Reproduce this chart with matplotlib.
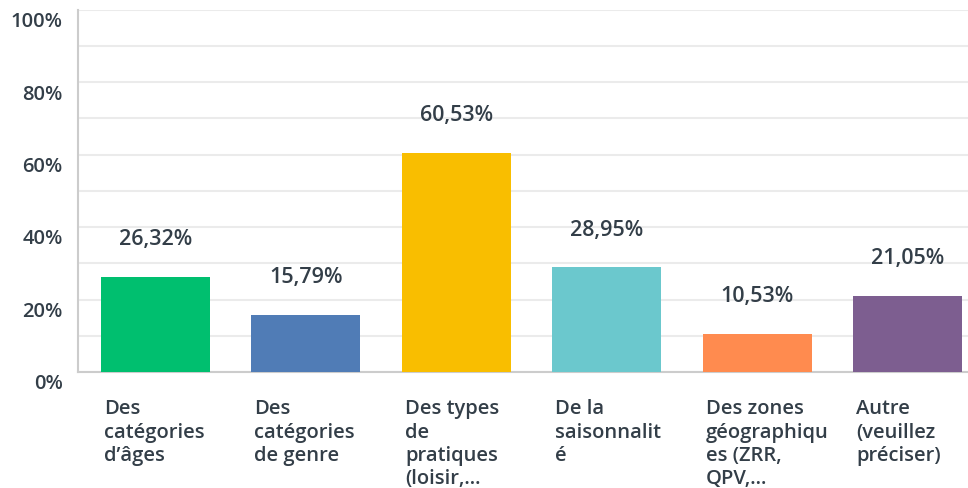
import numpy as np
import matplotlib
matplotlib.use("Agg")
import matplotlib.pyplot as plt
from matplotlib.transforms import ScaledTranslation

categories = [
    "Des\ncatégories\nd\u2019âges",
    "Des\ncatégories\nde genre",
    "Des types\nde\npratiques\n(loisir,...",
    "De la\nsaisonnalit\né",
    "Des zones\ngéographiqu\nes (ZRR,\nQPV,...",
    "Autre\n(veuillez\npréciser)",
]
values = [26.32, 15.79, 60.53, 28.95, 10.53, 21.05]
colors = ["#00BF6F", "#507CB6", "#F9BE00", "#6BC8CD", "#FF8B4F", "#7D5E90"]
value_labels = ["26,32%", "15,79%", "60,53%", "28,95%", "10,53%", "21,05%"]
ytick_labels = ["0%", "20%", "40%", "60%", "80%", "100%"]

text_color = "#333E48"
plt.rcParams["font.family"] = ["Open Sans", "DejaVu Sans"]

fig = plt.figure(figsize=(9.68, 4.89), dpi=100)
ax = fig.add_axes([78 / 968, 116 / 489, 1 - 78 / 968, 362.5 / 489])

x = np.arange(len(values))
w = 0.725
ax.bar(x, values, width=w, color=colors, zorder=3)

for xi, v, lab in zip(x, values, value_labels):
    ax.annotate(lab, (xi, v), xytext=(0, 27.4), textcoords="offset points",
                ha="center", va="center", fontsize=15.5, color=text_color,
                fontweight="semibold")

ax.set_xlim(-0.515, 5.40)
ax.set_ylim(0, 100)

ax.set_yticks(np.arange(0, 101, 20))
ax.set_yticklabels(ytick_labels)
ax.set_yticks(np.arange(10, 100, 20), minor=True)
ax.grid(True, which="both", axis="y", color="#EBEBEB", linewidth=1.5, zorder=0)
ax.tick_params(axis="y", which="both", length=0, pad=11, labelsize=14.5,
               labelcolor=text_color)
for lbl in ax.get_yticklabels():
    lbl.set_fontweight("semibold")
    lbl.set_transform(lbl.get_transform() + ScaledTranslation(0, -0.09, fig.dpi_scale_trans))

ax.set_xticks(x - w / 2 + 0.02)
ax.set_xticklabels(categories, ha="left", va="top", multialignment="left",
                   linespacing=1.22, fontsize=14.5, color=text_color,
                   fontweight="semibold")
ax.tick_params(axis="x", length=0, pad=19)

for s in ["top", "right"]:
    ax.spines[s].set_visible(False)
ax.spines["left"].set_color("#CCCCCC")
ax.spines["left"].set_linewidth(1.5)
ax.spines["bottom"].set_color("#CCCCCC")
ax.spines["bottom"].set_linewidth(1.5)

fig.savefig("out.png", dpi=100)
